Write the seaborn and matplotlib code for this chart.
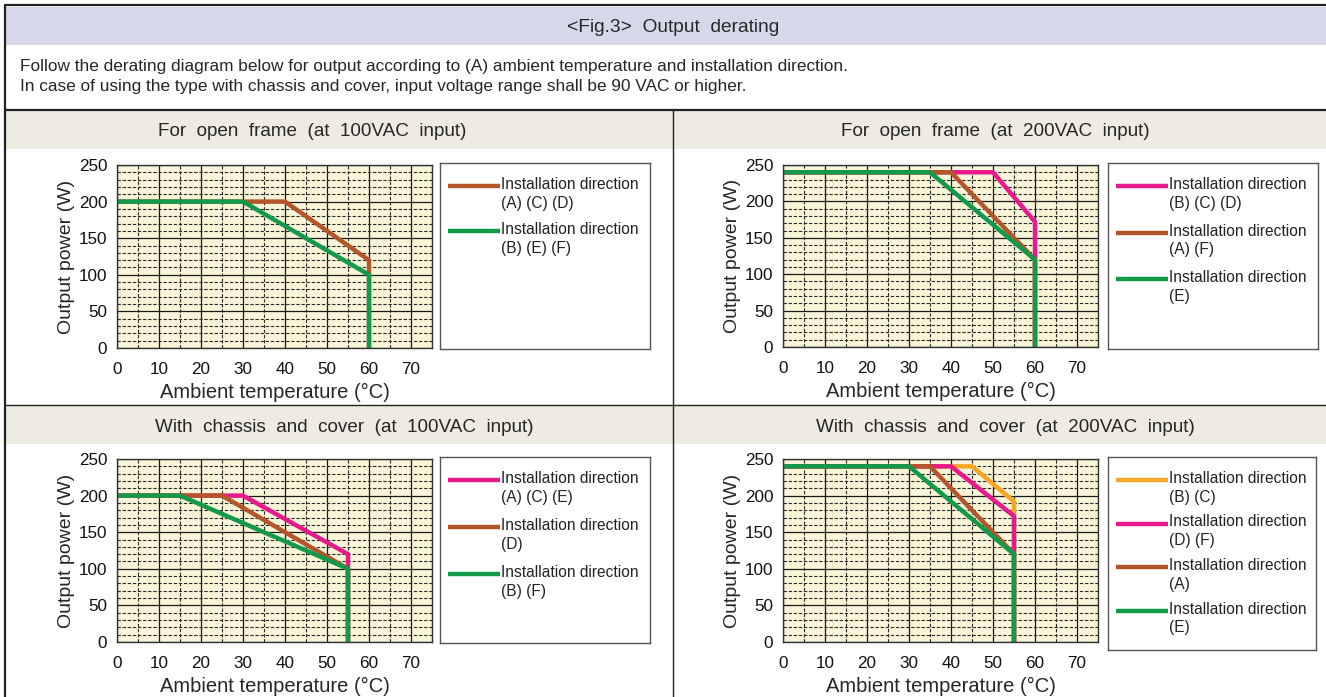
import numpy as np
import pandas as pd
import matplotlib
matplotlib.use("Agg")
import matplotlib.pyplot as plt
from matplotlib.patches import Rectangle
from matplotlib.ticker import MultipleLocator
import seaborn as sns

# ── Data ──────────────────────────────────────────────────────────────────────
XTICKS = [0, 10, 20, 30, 40, 50, 60, 70]
YTICKS = [0, 50, 100, 150, 200, 250]

# Open frame, 100VAC input
OF100_LABELS = ["Installation direction\n(A) (C) (D)",
                "Installation direction\n(B) (E) (F)"]
OF100_TEMP = [[0, 40, 60, 60], [0, 30, 60, 60]]
OF100_POWER = [[200, 200, 120, 0], [200, 200, 100, 0]]

# Open frame, 200VAC input
OF200_LABELS = ["Installation direction\n(B) (C) (D)",
                "Installation direction\n(A) (F)",
                "Installation direction\n(E)"]
OF200_TEMP = [[0, 50, 60, 60], [0, 40, 60, 60], [0, 35, 60, 60]]
OF200_POWER = [[240, 240, 172, 0], [240, 240, 120, 0], [240, 240, 120, 0]]

# Chassis and cover, 100VAC input
CC100_LABELS = ["Installation direction\n(A) (C) (E)",
                "Installation direction\n(D)",
                "Installation direction\n(B) (F)"]
CC100_TEMP = [[0, 30, 55, 55], [0, 25, 55, 55], [0, 15, 55, 55]]
CC100_POWER = [[200, 200, 120, 0], [200, 200, 100, 0], [200, 200, 100, 0]]

# Chassis and cover, 200VAC input
CC200_LABELS = ["Installation direction\n(B) (C)",
                "Installation direction\n(D) (F)",
                "Installation direction\n(A)",
                "Installation direction\n(E)"]
CC200_TEMP = [[0, 45, 55, 55], [0, 40, 55, 55], [0, 35, 55, 55], [0, 30, 55, 55]]
CC200_POWER = [[240, 240, 192, 0], [240, 240, 172, 0], [240, 240, 120, 0], [240, 240, 120, 0]]

ORANGE = "#f5a623"
PINK = "#e8198b"
BROWN = "#b5562a"
GREEN = "#12994a"

# ── Style ─────────────────────────────────────────────────────────────────────
sns.set_style("white")
plt.rcParams["font.family"] = ["Liberation Sans", "DejaVu Sans"]

W, H = 1326, 697
fig = plt.figure(figsize=(W / 100, H / 100), dpi=100)

# background layer in pixel coordinates
bg = fig.add_axes([0, 0, 1, 1])
bg.set_xlim(0, W)
bg.set_ylim(H, 0)
bg.axis("off")

bg.add_patch(Rectangle((5, 7), W, 38, color="#d6d8ea", lw=0))
bg.add_patch(Rectangle((5, 111), W, 38, color="#eeebe0", lw=0))
bg.add_patch(Rectangle((5, 406), W, 38, color="#eeebe0", lw=0))
bg.plot([5, W], [5, 5], color="#222222", lw=1.6)
bg.plot([5, W], [110, 110], color="#222222", lw=1.6)
bg.plot([5, W], [405, 405], color="#222222", lw=1.0)
bg.plot([5, 5], [5, H], color="#222222", lw=1.6)
bg.plot([673, 673], [110, H], color="#222222", lw=1.0)

bg.text(673, 27, "<Fig.3>  Output  derating", ha="center", va="center", fontsize=13.8)
bg.text(20, 67, "Follow the derating diagram below for output according to (A) ambient "
        "temperature and installation direction.", ha="left", va="center", fontsize=12.4)
bg.text(20, 87, "In case of using the type with chassis and cover, input voltage range "
        "shall be 90 VAC or higher.", ha="left", va="center", fontsize=12.4)

bg.text(312, 132, "For  open  frame  (at  100VAC  input)", ha="center", va="center", fontsize=13.6)
bg.text(995, 132, "For  open  frame  (at  200VAC  input)", ha="center", va="center", fontsize=13.6)
bg.text(344, 427, "With  chassis  and  cover  (at  100VAC  input)", ha="center", va="center", fontsize=13.6)
bg.text(1005, 427, "With  chassis  and  cover  (at  200VAC  input)", ha="center", va="center", fontsize=13.6)


def px_box(left, top, right, bottom):
    return [left / W, 1 - bottom / H, (right - left) / W, (bottom - top) / H]


def draw_panel(box, temps, powers, labels, colors):
    ax = fig.add_axes(px_box(*box))
    rows = []
    for label, t, p in zip(labels, temps, powers):
        for order, (tt, pp) in enumerate(zip(t, p)):
            rows.append({"series": label, "order": order, "temp": tt, "power": pp})
    df = pd.DataFrame(rows)
    sns.lineplot(data=df, x="temp", y="power", hue="series", hue_order=labels,
                 palette=colors, units="series", estimator=None, sort=False,
                 linewidth=3.2, legend=False, ax=ax)
    ax.set_facecolor("#f8f5d8")
    ax.set_xlim(0, 75)
    ax.set_ylim(0, 250)
    ax.set_xticks(XTICKS)
    ax.set_yticks(YTICKS)
    ax.xaxis.set_minor_locator(MultipleLocator(5))
    ax.yaxis.set_minor_locator(MultipleLocator(10))
    ax.set_axisbelow(True)
    ax.grid(which="major", color="#1a1a1a", lw=0.9, ls="-")
    ax.grid(which="minor", color="#2a2a2a", lw=0.8, ls=(0, (3, 1.6)))
    ax.tick_params(which="both", length=0, labelsize=12.3, colors="#111111")
    ax.tick_params(axis="x", pad=10)
    ax.tick_params(axis="y", pad=7)
    for s in ax.spines.values():
        s.set_color("#333333")
        s.set_linewidth(1.0)
    ax.set_xlabel("Ambient temperature (°C)", fontsize=14.5, labelpad=4)
    ax.set_ylabel("Output power (W)", fontsize=14.0, labelpad=3)
    return ax


def draw_legend(box, labels, colors, step):
    lg = fig.add_axes(px_box(*box))
    lg.set_xlim(box[0], box[2])
    lg.set_ylim(box[3], box[1])
    lg.set_xticks([])
    lg.set_yticks([])
    lg.set_facecolor("white")
    for s in lg.spines.values():
        s.set_color("#555555")
        s.set_linewidth(1.0)
    y0 = box[1] + 23
    for i, (label, c) in enumerate(zip(labels, colors)):
        y = y0 + i * step
        lg.plot([box[0] + 8, box[0] + 60], [y, y], color=c, lw=3.2, solid_capstyle="butt")
        lg.text(box[0] + 61, y - 9, label, ha="left", va="top", fontsize=11.2,
                linespacing=1.32, color="#222222")


draw_panel((117, 165, 432, 348), OF100_TEMP, OF100_POWER, OF100_LABELS, [BROWN, GREEN])
draw_legend((440, 163, 650, 349), OF100_LABELS, [BROWN, GREEN], 45)

draw_panel((783, 165, 1098, 347), OF200_TEMP, OF200_POWER, OF200_LABELS, [PINK, BROWN, GREEN])
draw_legend((1108, 163, 1318, 349), OF200_LABELS, [PINK, BROWN, GREEN], 46.5)

draw_panel((117, 459, 432, 642), CC100_TEMP, CC100_POWER, CC100_LABELS, [PINK, BROWN, GREEN])
draw_legend((440, 457, 650, 643), CC100_LABELS, [PINK, BROWN, GREEN], 47)

draw_panel((783, 459, 1098, 642), CC200_TEMP, CC200_POWER, CC200_LABELS, [ORANGE, PINK, BROWN, GREEN])
draw_legend((1108, 457, 1316, 650), CC200_LABELS, [ORANGE, PINK, BROWN, GREEN], 43.5)

fig.savefig("out.png", dpi=100)
